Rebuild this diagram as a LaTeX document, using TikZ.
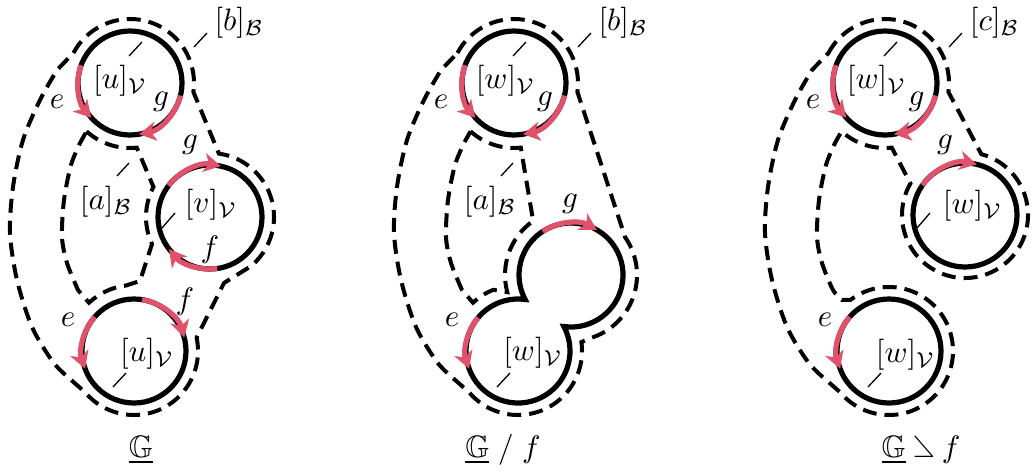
\documentclass[tikz,border=0pt]{standalone}
\usepackage{amssymb}
\usepackage{graphicx}
\usetikzlibrary{calc,arrows.meta}
\definecolor{edgered}{RGB}{224,82,108}
\tikzset{
  vtxline/.style={line width=5.2pt},
  faceline/.style={line width=4pt, dash pattern=on 14pt off 8pt},
  hedge/.style={line width=5.2pt, draw=edgered, -{Stealth[length=17pt,width=19pt,inset=5pt]}},
  lbl/.style={inner sep=0pt, scale=3.1},
  tickline/.style={line width=1.3pt},
}
% half-edge arc on a vertex disc: centre, start angle, end angle
\newcommand\hedgearc[3]{\draw[hedge] ($(#1)+(#2:52pt)$) arc[start angle=#2,end angle=#3,radius=52pt];}
% short label tick between two named points
\newcommand\drawtick[3]{\coordinate (#1a) at (#2); \coordinate (#1b) at (#3); \draw[tickline] (#1a) -- (#1b);}
\begin{document}
\begin{tikzpicture}[x=1pt,y=1pt]
\useasboundingbox (0,0) rectangle (1033,-472);

% ---------------- ribbon graph G ----------------
\def\ox{0}
\coordinate (T1) at (\ox+130,-83);
\coordinate (V1) at (\ox+210,-217);
\coordinate (B1) at (\ox+134,-351);
% boundary component a
\draw[faceline] ($(T1)+(-132:65pt)$) arc[start angle=-132,end angle=-84,radius=65pt]
  -- ($(V1)+(152:64pt)$) arc[start angle=152,end angle=205,radius=64pt]
  -- (\ox+140,-281) -- ($(B1)+(97:66pt)$) arc[start angle=97,end angle=133,radius=66pt]
  -- plot[smooth] coordinates {(\ox+78,-290) (\ox+67,-263) (\ox+62,-237) (\ox+64,-200) (\ox+71,-165) (\ox+80,-143)} -- cycle;
% boundary component b
\draw[faceline] ($(T1)+(152:64pt)$) arc[start angle=152,end angle=-8,radius=64pt]
  -- ($(V1)+(82:64pt)$) arc[start angle=82,end angle=-50,radius=64pt]
  -- (\ox+224,-283) -- ($(B1)+(12:64pt)$) arc[start angle=12,end angle=-140,radius=64pt]
  -- plot[smooth] coordinates {(\ox+70,-379) (\ox+53,-362) (\ox+32,-327) (\ox+17,-280) (\ox+10,-233) (\ox+13,-187) (\ox+23,-140) (\ox+40,-100) (\ox+57,-70)} -- cycle;
\draw[vtxline] (T1) circle[radius=52pt] (V1) circle[radius=52pt] (B1) circle[radius=52pt];
\hedgearc{T1}{160}{222}
\hedgearc{T1}{-14}{-80}
\hedgearc{V1}{143}{78}
\hedgearc{V1}{278}{218}
\hedgearc{B1}{81}{15}
\hedgearc{B1}{139}{200}
\node[lbl] (uT1) at (\ox+120,-81) {$[u]_{\mathcal{V}}$};
\node[lbl] (fb1) at (\ox+239,-23) {$[b]_{\mathcal{B}}$};
\node[lbl] (eT1) at (\ox+57,-102) {$e$};
\node[lbl] (gT1) at (\ox+161,-102) {$g$};
\node[lbl] (gV1) at (\ox+190,-145) {$g$};
\node[lbl] (fa1) at (\ox+106,-202) {$[a]_{\mathcal{B}}$};
\node[lbl] (vV1) at (\ox+211,-205) {$[v]_{\mathcal{V}}$};
\node[lbl] (fV1) at (\ox+210,-250) {$f$};
\node[lbl] (fB1) at (\ox+185,-302) {$f$};
\node[lbl] (eB1) at (\ox+68,-320) {$e$};
\node[lbl] (uB1) at (\ox+147,-354) {$[u]_{\mathcal{V}}$};
\node[lbl] (cap1) at (\ox+141,-450) {$\underline{\mathbb{G}}$};
\drawtick{tb1}{\ox+194,-47}{\ox+207,-33}
\drawtick{tu1}{\ox+129,-56}{\ox+142,-42}
\drawtick{ta1}{\ox+117,-176}{\ox+129,-163}
\drawtick{tv1}{\ox+162,-228}{\ox+175,-213}
\drawtick{tw1}{\ox+113,-387}{\ox+126,-373}

% ---------------- contraction G / f ----------------
\def\ox{384}
\coordinate (T2) at (\ox+130,-83);
\coordinate (L2) at (\ox+134,-351);
\coordinate (U2) at (\ox+187,-275);
\draw[faceline] ($(T2)+(-132:65pt)$) arc[start angle=-132,end angle=-84,radius=65pt]
  -- ($(U2)+(125:66pt)$) arc[start angle=125,end angle=195,radius=66pt]
  -- ($(L2)+(112:66pt)$) arc[start angle=112,end angle=133,radius=66pt]
  -- plot[smooth] coordinates {(\ox+78,-290) (\ox+67,-263) (\ox+62,-237) (\ox+64,-200) (\ox+71,-165) (\ox+80,-143)} -- cycle;
\draw[faceline] ($(T2)+(152:64pt)$) arc[start angle=152,end angle=-8,radius=64pt]
  -- ($(U2)+(35:66pt)$) arc[start angle=35,end angle=-72,radius=66pt]
  -- ($(L2)+(8:64pt)$) arc[start angle=8,end angle=-140,radius=64pt]
  -- plot[smooth] coordinates {(\ox+70,-379) (\ox+53,-362) (\ox+32,-327) (\ox+17,-280) (\ox+10,-233) (\ox+13,-187) (\ox+23,-140) (\ox+40,-100) (\ox+57,-70)} -- cycle;
\draw[vtxline] (T2) circle[radius=52pt];
\draw[vtxline] ($(L2)+(82.1:52pt)$) arc[start angle=82.1,end angle=388.1,radius=52pt]
  arc[start angle=-97.9,end angle=208.1,radius=52pt] -- cycle;
\hedgearc{T2}{160}{222}
\hedgearc{T2}{-14}{-80}
\hedgearc{U2}{123}{60}
\hedgearc{L2}{140}{200}
\node[lbl] (wT2) at (\ox+121.5,-81) {$[w]_{\mathcal{V}}$};
\node[lbl] (fb2) at (\ox+239,-23) {$[b]_{\mathcal{B}}$};
\node[lbl] (eT2) at (\ox+57,-102) {$e$};
\node[lbl] (gT2) at (\ox+161,-102) {$g$};
\node[lbl] (fa2) at (\ox+106,-202) {$[a]_{\mathcal{B}}$};
\node[lbl] (gU2) at (\ox+186,-204) {$g$};
\node[lbl] (eL2) at (\ox+68,-320) {$e$};
\node[lbl] (wL2) at (\ox+149,-353) {$[w]_{\mathcal{V}}$};
\node[lbl] (cap2) at (\ox+119,-450) {$\underline{\mathbb{G}}\;/\;f$};
\drawtick{tb2}{\ox+194,-47}{\ox+207,-33}
\drawtick{tu2}{\ox+129,-56}{\ox+142,-42}
\drawtick{ta2}{\ox+117,-176}{\ox+129,-163}
\drawtick{tw2}{\ox+113,-387}{\ox+126,-373}

% ---------------- deletion of f ----------------
\def\ox{755}
\coordinate (T3) at (\ox+130,-83);
\coordinate (R3) at (\ox+210,-215);
\coordinate (B3) at (\ox+134,-351);
\draw[faceline] ($(T3)+(152:64pt)$) arc[start angle=152,end angle=-8,radius=64pt]
  -- ($(R3)+(75:63pt)$) arc[start angle=75,end angle=-210,radius=63pt]
  -- ($(T3)+(-84:65pt)$) arc[start angle=-84,end angle=-132,radius=65pt]
  -- plot[smooth] coordinates {(\ox+80,-143) (\ox+71,-165) (\ox+64,-200) (\ox+62,-237) (\ox+67,-263) (\ox+78,-290) (\ox+87,-300)}
  -- ($(B3)+(127:64pt)$) arc[start angle=127,end angle=-140,radius=64pt]
  -- plot[smooth] coordinates {(\ox+70,-379) (\ox+53,-362) (\ox+32,-327) (\ox+17,-280) (\ox+10,-233) (\ox+13,-187) (\ox+23,-140) (\ox+40,-100) (\ox+57,-70)} -- cycle;
\draw[vtxline] (T3) circle[radius=52pt] (R3) circle[radius=52pt] (B3) circle[radius=52pt];
\hedgearc{T3}{160}{222}
\hedgearc{T3}{-14}{-80}
\hedgearc{R3}{145}{77}
\hedgearc{B3}{139}{200}
\node[lbl] (wT3) at (\ox+121.5,-81) {$[w]_{\mathcal{V}}$};
\node[lbl] (fc3) at (\ox+239.5,-23) {$[c]_{\mathcal{B}}$};
\node[lbl] (eT3) at (\ox+58,-102) {$e$};
\node[lbl] (gT3) at (\ox+161.5,-102) {$g$};
\node[lbl] (gR3) at (\ox+190,-145) {$g$};
\node[lbl] (wR3) at (\ox+217.5,-206) {$[w]_{\mathcal{V}}$};
\node[lbl] (eB3) at (\ox+70,-320) {$e$};
\node[lbl] (wB3) at (\ox+150.5,-355) {$[w]_{\mathcal{V}}$};
\node[lbl] (cap3) at (\ox+166,-450) {$\underline{\mathbb{G}}\mathbin{\reflectbox{$\angle$}}f$};
\drawtick{tc3}{\ox+194,-47}{\ox+207,-33}
\drawtick{tu3}{\ox+129,-56}{\ox+142,-42}
\drawtick{tr3}{\ox+162,-228}{\ox+175,-213}
\drawtick{tw3}{\ox+113,-387}{\ox+126,-373}
\end{tikzpicture}
\end{document}
